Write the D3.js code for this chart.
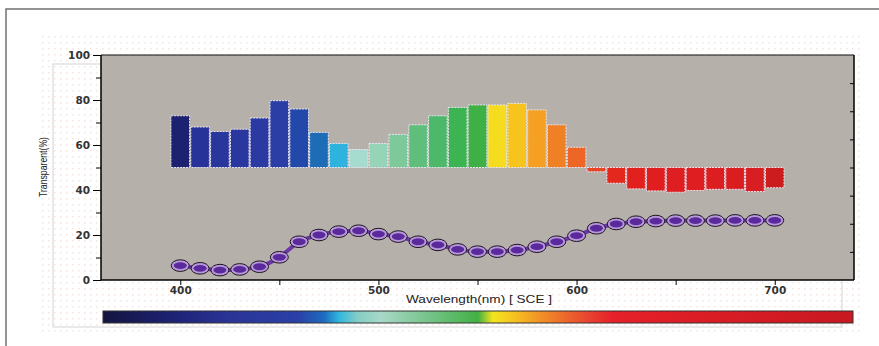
<!DOCTYPE html>
<html>
<head>
<meta charset="utf-8">
<script src="https://cdn.jsdelivr.net/npm/d3@7/dist/d3.min.js"></script>
<style>
  html, body { margin: 0; padding: 0; background: #fff; }
  svg { display: block; }
</style>
</head>
<body>
<svg id="chart" width="879" height="346"></svg>
<script>
// wavelengths (nm) of each bar / curve point
const wavelengths = [400, 410, 420, 430, 440, 450, 460, 470, 480, 490, 500, 510, 520, 530, 540, 550,
  560, 570, 580, 590, 600, 610, 620, 630, 640, 650, 660, 670, 680, 690, 700];
// bar tops, drawn from the 50% baseline
const barValues = [73, 68, 66, 67, 72, 79.7, 76, 65.6, 60.7, 58, 60.7, 64.7, 69, 73, 76.7, 77.8,
  77.8, 78.5, 75.6, 69, 59, 48.1, 43, 40.5, 39.6, 39, 39.8, 40.3, 40.3, 39.3, 41];
// transparency curve
const curveValues = [6.4, 5.2, 4.4, 4.7, 5.9, 10.1, 17, 20, 21.5, 21.9, 20.4, 19.3, 17, 15.6, 13.6, 12.6,
  12.6, 13.3, 14.8, 17, 19.7, 23, 24.9, 25.9, 26.2, 26.4, 26.4, 26.4, 26.5, 26.5, 26.5];
const yTickLabels = [0, 20, 40, 60, 80, 100];
const xTickLabels = [400, 500, 600, 700];
const baseline = 50;

const barColors = ['#1d2270', '#28339a', '#29369c', '#2a379e', '#2b3aa2', '#2b3ea6', '#2249aa', '#1c6cb6',
  '#2eb2de', '#a6dccf', '#96d4b8', '#7dc99a', '#5fbe7c', '#4db86a', '#3db452', '#3fb046',
  '#f6dc1e', '#f6c41c', '#f5a022', '#f08024', '#ee6626', '#e84526', '#e4281e', '#e2201e',
  '#e01e20', '#de1e20', '#de1e20', '#dc1e20', '#da1e20', '#d81e22', '#cc1c1e'];

const svg = d3.select('#chart');
const plotL = 101, plotR = 854, plotT = 55, plotB = 280;

const x = d3.scaleLinear().domain([360, 740]).range([plotL, plotR]);
const y = d3.scaleLinear().domain([0, 100]).range([plotB, plotT]);

// dotted background
const defs = svg.append('defs');
defs.append('pattern')
  .attr('id', 'dots').attr('width', 6).attr('height', 6)
  .attr('patternUnits', 'userSpaceOnUse')
  .append('rect').attr('width', 1.5).attr('height', 1.5).attr('fill', '#f2e6e2');
svg.append('rect').attr('x', 38).attr('y', 33).attr('width', 824).attr('height', 300)
  .attr('fill', 'url(#dots)');

// outer frame
svg.append('rect').attr('x', 6).attr('y', 9).attr('width', 900).attr('height', 400)
  .attr('fill', 'none').attr('stroke', '#707070').attr('stroke-width', 1.5);
svg.append('rect').attr('x', 53).attr('y', 64).attr('width', 789).attr('height', 263)
  .attr('fill', 'none').attr('stroke', '#d4d4d4').attr('stroke-width', 1);

// plot area
svg.append('rect').attr('x', plotL).attr('y', plotT).attr('width', plotR - plotL).attr('height', plotB - plotT)
  .attr('fill', '#b5b0aa');

// bars
const halfW = 4.7;
svg.append('g').selectAll('rect')
  .data(wavelengths)
  .enter()
  .append('rect')
  .attr('x', d => x(d - halfW))
  .attr('width', d => x(d + halfW) - x(d - halfW))
  .attr('y', (d, i) => y(Math.max(barValues[i], baseline)))
  .attr('height', (d, i) => Math.abs(y(barValues[i]) - y(baseline)))
  .attr('fill', (d, i) => barColors[i])
  .attr('stroke', '#eae6f0')
  .attr('stroke-width', 1)
  .attr('stroke-dasharray', '2,1');

// curve
const pts = wavelengths.map((w, i) => [x(w), y(curveValues[i])]);
svg.append('path')
  .attr('d', d3.line().curve(d3.curveMonotoneX)(pts))
  .attr('fill', 'none').attr('stroke', '#6a36a8').attr('stroke-width', 4);
const marks = svg.append('g').selectAll('g').data(pts).enter().append('g');
marks.append('ellipse')
  .attr('cx', d => d[0]).attr('cy', d => d[1]).attr('rx', 9).attr('ry', 5.8)
  .attr('fill', '#b898d8').attr('stroke', '#1c1420').attr('stroke-width', 1);
marks.append('ellipse')
  .attr('cx', d => d[0]).attr('cy', d => d[1]).attr('rx', 6.5).attr('ry', 3.4)
  .attr('fill', '#5a2a9c');

// axes
const tickFont = g => g.selectAll('text')
  .attr('font-family', 'DejaVu Sans, sans-serif').attr('font-weight', 'bold')
  .attr('font-size', 10.5).attr('fill', '#333');

const yMinor = svg.append('g').attr('transform', `translate(${plotL},0)`)
  .call(d3.axisLeft(y).tickValues([10, 30, 50, 70, 90]).tickSize(5).tickFormat(''));
yMinor.select('.domain').remove();
svg.append('g').attr('transform', `translate(${plotL},0)`)
  .call(d3.axisLeft(y).tickValues(yTickLabels).tickSize(8).tickPadding(3))
  .call(tickFont)
  .call(g => g.select('.domain').attr('stroke-width', 1.5).attr('d', `M0,${plotT}V${plotB}`));

// right axis with inner ticks
svg.append('g').attr('transform', `translate(${plotR},0)`)
  .call(d3.axisRight(y).tickValues([12.5, 25, 37.5, 50, 62.5, 75, 87.5]).tickSize(-4).tickFormat(''))
  .call(g => g.select('.domain').attr('stroke-width', 1.5).attr('d', `M0,${plotT}V${plotB}`));

// top border
svg.append('line').attr('x1', plotL).attr('x2', plotR).attr('y1', plotT).attr('y2', plotT)
  .attr('stroke', '#111').attr('stroke-width', 1.2);

svg.append('g').attr('transform', `translate(0,${plotB})`)
  .call(d3.axisBottom(x).tickValues([400, 450, 500, 550, 600, 650, 700]).tickSize(5)
    .tickFormat(d => xTickLabels.includes(d) ? d : ''))
  .call(tickFont)
  .call(g => g.select('.domain').attr('stroke-width', 1.5).attr('d', `M${plotL},0H${plotR}`))
  .call(g => g.selectAll('text').attr('dy', '0.55em'));

// axis titles
svg.append('text').attr('x', 479).attr('y', 303).attr('text-anchor', 'middle')
  .attr('font-family', 'Liberation Sans, Arial, sans-serif').attr('font-size', 11).attr('fill', '#222')
  .attr('textLength', 146).attr('lengthAdjust', 'spacingAndGlyphs')
  .text('Wavelength(nm) [ SCE ]');
svg.append('text').attr('transform', 'translate(47,167) rotate(-90)').attr('text-anchor', 'middle')
  .attr('font-family', 'Liberation Sans, Arial, sans-serif').attr('font-size', 10).attr('fill', '#222')
  .attr('textLength', 60).attr('lengthAdjust', 'spacingAndGlyphs')
  .text('Transparent(%)');

// spectrum colour bar
const stops = [
  [0, '#14143e'], [0.1, '#1e2378'], [0.17, '#2a3596'], [0.26, '#2a40a8'], [0.295, '#1e6cc0'],
  [0.315, '#30b8e0'], [0.34, '#86cdc4'], [0.37, '#a8d8c8'], [0.44, '#72c284'], [0.5, '#42b044'],
  [0.52, '#f6e41e'], [0.55, '#f6c020'], [0.59, '#f08828'], [0.65, '#e84030'], [0.68, '#e62028'],
  [1, '#c81820']];
const grad = defs.append('linearGradient').attr('id', 'spec');
grad.selectAll('stop').data(stops).enter().append('stop')
  .attr('offset', d => d[0]).attr('stop-color', d => d[1]);
svg.append('rect').attr('x', 103).attr('y', 311).attr('width', 750).attr('height', 12)
  .attr('fill', 'url(#spec)').attr('stroke', '#333').attr('stroke-width', 1);
</script>
</body>
</html>
